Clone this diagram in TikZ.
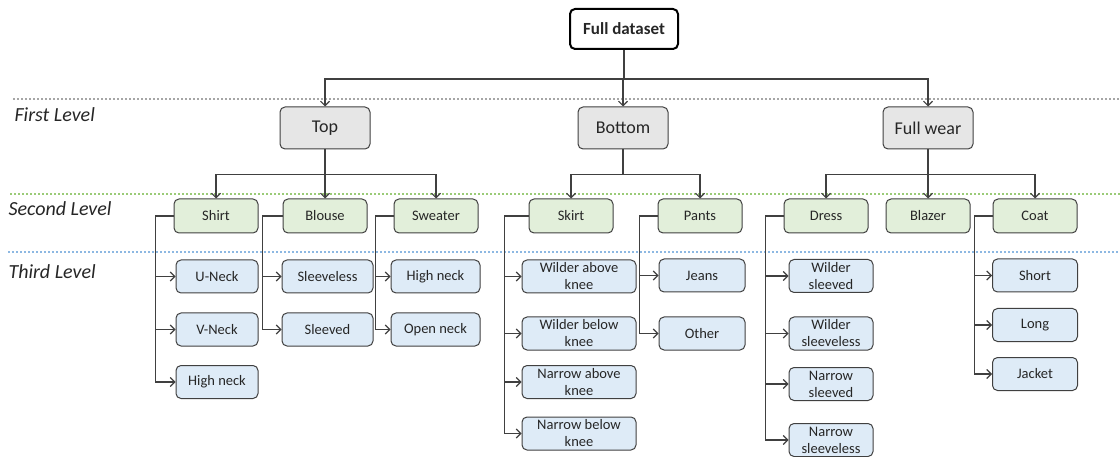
\documentclass[tikz,border=0pt]{standalone}
\usepackage{fontspec}
\setmainfont{Carlito}
\usepackage{tikz}
\usetikzlibrary{arrows.meta}

\definecolor{boxline}{HTML}{404040}
\definecolor{lvlgray}{HTML}{E6E6E6}
\definecolor{lvlgreen}{HTML}{E2EFDA}
\definecolor{lvlblue}{HTML}{DEEBF7}
\definecolor{sepgray}{HTML}{A6A6A6}
\definecolor{sepgreen}{HTML}{9BCB78}
\definecolor{sepblue}{HTML}{8DB8E2}

\tikzset{
    box/.style={draw=boxline, line width=1pt, rounded corners=5pt, text=black!85},
    rootbox/.style={box, draw=black, line width=2pt, minimum width=108pt, minimum height=40pt,
        font=\fontsize{17}{20}\selectfont\bfseries},
    lvone/.style={box, fill=lvlgray, minimum width=90pt, minimum height=42pt,
        font=\fontsize{18}{20}\selectfont},
    lvtwo/.style={box, fill=lvlgreen, minimum width=84pt, minimum height=34pt,
        font=\fontsize{14.5}{17}\selectfont},
    lvthree/.style={box, fill=lvlblue, minimum width=#1, minimum height=33pt, inner sep=1pt,
        align=center, font=\fontsize{14.5}{17}\selectfont},
    lvthree/.default=84pt,
    link/.style={draw=boxline, line width=1.1pt, -{Straight Barb[length=4.5pt, width=9pt]}},
    sepline/.style={line width=1.3pt, dash pattern=on 2pt off 2pt},
    levelname/.style={anchor=west, text=black!85, font=\fontsize{20}{22}\selectfont\itshape}
}

\begin{document}
\begin{tikzpicture}[x=1pt, y=-1pt]
    \useasboundingbox (0,0) rectangle (1120,457);

    % level separators and names
    \draw[sepline, sepgray] (13,99) -- (1120,99);
    \draw[sepline, sepgreen] (10,194) -- (1120,194);
    \draw[sepline, sepblue] (8,252) -- (1120,252);
    \node[levelname] (first) at (11,115) {First Level};
    \node[levelname] (second) at (5,209) {Second Level};
    \node[levelname] (third) at (5,272) {Third Level};

    % root and first level
    \node[rootbox] (full) at (624,29) {Full dataset};
    \node[lvone] (top) at (325,128) {Top};
    \node[lvone] (bottom) at (623,128) {Bottom};
    \node[lvone] (fullwear) at (928,128) {Full wear};

    % second level
    \node[lvtwo] (shirt) at (216,216) {Shirt};
    \node[lvtwo] (blouse) at (325,216) {Blouse};
    \node[lvtwo] (sweater) at (436,216) {Sweater};
    \node[lvtwo] (skirt) at (571,216) {Skirt};
    \node[lvtwo] (pants) at (700,216) {Pants};
    \node[lvtwo] (dress) at (826,216) {Dress};
    \node[lvtwo] (blazer) at (928,216) {Blazer};
    \node[lvtwo] (coat) at (1035,216) {Coat};

    % third level
    \node[lvthree=82pt] (uneck) at (217,276.5) {U-Neck};
    \node[lvthree=82pt] (vneck) at (217,329.5) {V-Neck};
    \node[lvthree=82pt] (shirthigh) at (217,382) {High neck};
    \node[lvthree=91pt] (sleeveless) at (327.5,276.5) {Sleeveless};
    \node[lvthree=91pt] (sleeved) at (327.5,329.5) {Sleeved};
    \node[lvthree=89pt] (sweaterhigh) at (435.5,276.5) {High neck};
    \node[lvthree=89pt] (openneck) at (435.5,329.5) {Open neck};
    \node[lvthree=114pt] (wabove) at (579,276.5) {Wilder above\\knee};
    \node[lvthree=114pt] (wbelow) at (579,333.5) {Wilder below\\knee};
    \node[lvthree=114pt] (nabove) at (579,382) {Narrow above\\knee};
    \node[lvthree=114pt] (nbelow) at (579,433.5) {Narrow below\\knee};
    \node[lvthree=86pt] (jeans) at (702,275.5) {Jeans};
    \node[lvthree=86pt] (other) at (702,333.5) {Other};
    \node[lvthree] (wsleeved) at (831,276) {Wilder\\sleeved};
    \node[lvthree] (wsleeveless) at (831,333.5) {Wilder\\sleeveless};
    \node[lvthree] (nsleeved) at (831,384) {Narrow\\sleeved};
    \node[lvthree] (nsleeveless) at (831,440) {Narrow\\sleeveless};
    \node[lvthree=85pt] (short) at (1035,275.5) {Short};
    \node[lvthree=85pt] (long) at (1035,325) {Long};
    \node[lvthree=85pt] (jacket) at (1035,374) {Jacket};

    % tree links down the levels
    \foreach \c in {top,bottom,fullwear}
        \draw[link] (full.south) -- ++(0,29) -| (\c.north);
    \foreach \c in {shirt,blouse,sweater}
        \draw[link] (top.south) -- ++(0,25) -| (\c.north);
    \foreach \c in {skirt,pants}
        \draw[link] (bottom.south) -- ++(0,25) -| (\c.north);
    \foreach \c in {dress,blazer,coat}
        \draw[link] (fullwear.south) -- ++(0,25) -| (\c.north);

    % side branches to the third level
    \foreach \c in {uneck,vneck,shirthigh}
        \draw[link] (shirt.west) -- ++(-18,0) |- (\c.west);
    \foreach \c in {sleeveless,sleeved}
        \draw[link] (blouse.west) -- ++(-20,0) |- (\c.west);
    \foreach \c in {sweaterhigh,openneck}
        \draw[link] (sweater.west) -- ++(-18,0) |- (\c.west);
    \foreach \c in {wabove,wbelow,nabove,nbelow}
        \draw[link] (skirt.west) -- ++(-24,0) |- (\c.west);
    \foreach \c in {jeans,other}
        \draw[link] (pants.west) -- ++(-18,0) |- (\c.west);
    \foreach \c in {wsleeved,wsleeveless,nsleeved,nsleeveless}
        \draw[link] (dress.west) -- ++(-18,0) |- (\c.west);
    \foreach \c in {short,long,jacket}
        \draw[link] (coat.west) -- ++(-18,0) |- (\c.west);
\end{tikzpicture}
\end{document}
